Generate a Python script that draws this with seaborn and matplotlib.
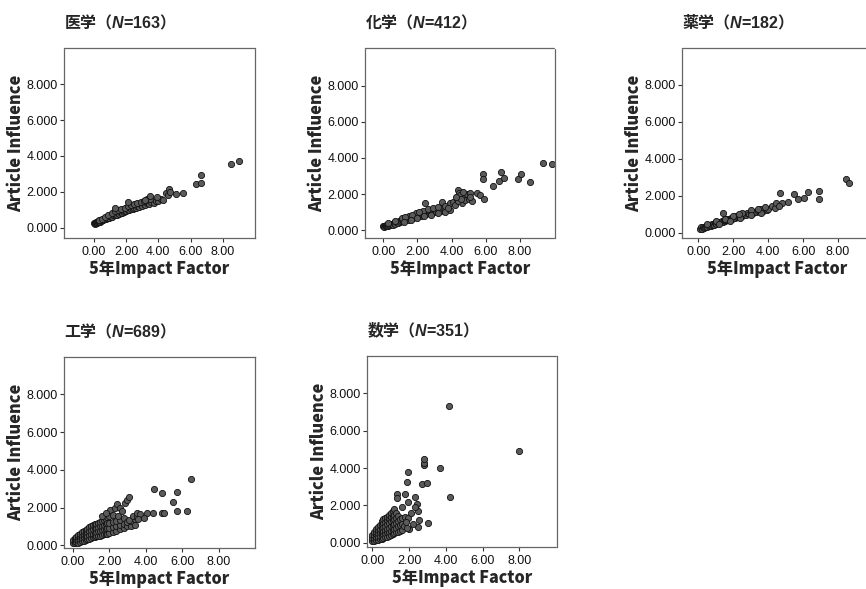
import matplotlib
matplotlib.use("Agg")
import matplotlib.pyplot as plt
import seaborn as sns
import pandas as pd
from matplotlib.ticker import FormatStrFormatter

# ---------------- data ----------------
fields = ["医学", "化学", "薬学", "工学", "数学"]
n_values = [163, 412, 182, 689, 351]
x_ticks = [0, 2, 4, 6, 8]
y_ticks = [0, 2, 4, 6, 8]
x_label = "5年Impact Factor"
y_label = "Article Influence"

med_pts = [
    (0.02, 0.23), (0.05, 0.2), (0.08, 0.27), (0.1, 0.24), (0.12, 0.3), (0.15, 0.25), (0.18, 0.31), (0.2, 0.28),
    (0.22, 0.33), (0.25, 0.3), (0.28, 0.35), (0.3, 0.31), (0.33, 0.37), (0.36, 0.34), (0.4, 0.4), (0.43, 0.37),
    (0.47, 0.43), (0.5, 0.4), (0.54, 0.46), (0.58, 0.43), (0.62, 0.5), (0.66, 0.46), (0.7, 0.52), (0.75, 0.5),
    (0.8, 0.56), (0.85, 0.52), (0.9, 0.6), (0.95, 0.56), (1.0, 0.63), (1.05, 0.6), (1.1, 0.66), (1.15, 0.62),
    (1.2, 0.7), (1.28, 0.68), (1.35, 0.74), (1.42, 0.72), (1.5, 0.8), (1.58, 0.76), (1.65, 0.84), (1.72, 0.82),
    (1.8, 0.9), (1.88, 0.86), (1.95, 0.95), (2.02, 0.92), (2.1, 0.99), (2.2, 0.98), (2.3, 1.06), (2.4, 1.02),
    (2.5, 1.12), (2.6, 1.08), (2.7, 1.18), (2.8, 1.14), (2.9, 1.25), (3.0, 1.2), (3.1, 1.3), (3.2, 1.25),
    (3.3, 1.36), (3.4, 1.32), (3.55, 1.42), (3.7, 1.38), (3.85, 1.5), (4.0, 1.48), (4.15, 1.58), (4.3, 1.55),
    (0.3, 0.42), (0.5, 0.5), (0.7, 0.62), (0.9, 0.72), (1.1, 0.8), (1.3, 0.9), (1.5, 0.98), (1.7, 1.05),
    (1.9, 1.12), (2.1, 1.2), (2.3, 1.28), (2.5, 1.3), (2.7, 1.38), (2.9, 1.45), (3.1, 1.5), (3.3, 1.6),
    (3.5, 1.62), (1.3, 1.08), (2.13, 1.42), (3.17, 1.55), (3.48, 1.77), (3.9, 1.72), (4.47, 1.96), (4.66, 2.16),
    (4.6, 1.8), (4.75, 2.0), (5.09, 1.86), (5.55, 1.96), (6.34, 2.42), (6.65, 2.51), (6.65, 2.96), (8.49, 3.56),
    (9.0, 3.74),
]

chem_pts = [
    (0.0, 0.2), (0.03, 0.24), (0.06, 0.18), (0.1, 0.22), (0.13, 0.26), (0.16, 0.2), (0.2, 0.25), (0.24, 0.29),
    (0.28, 0.23), (0.32, 0.28), (0.36, 0.32), (0.4, 0.27), (0.45, 0.33), (0.5, 0.36), (0.55, 0.3), (0.6, 0.38),
    (0.65, 0.41), (0.7, 0.35), (0.75, 0.43), (0.8, 0.46), (0.85, 0.4), (0.9, 0.48), (0.95, 0.5), (1.0, 0.45),
    (1.05, 0.53), (1.1, 0.56), (1.15, 0.5), (1.2, 0.58), (1.25, 0.6), (1.3, 0.54), (1.35, 0.63), (1.4, 0.66),
    (1.45, 0.58), (1.5, 0.67), (1.55, 0.7), (1.6, 0.63), (1.65, 0.72), (1.7, 0.75), (1.75, 0.67), (1.8, 0.77),
    (1.85, 0.8), (1.9, 0.72), (1.95, 0.82), (2.0, 0.85), (2.05, 0.76), (2.1, 0.87), (2.15, 0.9), (2.2, 0.8),
    (2.25, 0.92), (2.3, 0.95), (2.35, 0.84), (2.4, 0.97), (2.45, 1.0), (2.5, 0.88), (2.55, 1.02), (2.6, 1.05),
    (2.65, 0.92), (2.7, 1.06), (2.75, 1.1), (2.8, 0.96), (2.9, 1.1), (3.0, 1.14), (3.1, 1.0), (3.2, 1.16),
    (3.3, 1.2), (3.4, 1.05), (3.5, 1.22), (3.6, 1.12),
    (0.3, 0.38), (0.7, 0.52), (1.1, 0.66), (1.5, 0.8), (1.9, 0.94), (2.3, 1.08), (2.6, 1.18), (2.9, 1.25),
    (3.2, 1.3), (1.3, 0.72), (1.7, 0.86), (2.1, 1.0), (1.2, 0.44), (1.6, 0.54), (2.0, 0.66), (2.4, 0.76),
    (2.8, 0.86), (3.2, 0.95), (3.6, 1.0), (3.9, 1.12),
    (2.44, 1.48), (3.42, 1.57), (3.9, 1.48), (3.6, 1.32), (3.8, 1.22), (4.1, 1.55), (4.3, 1.75), (4.4, 2.2),
    (4.45, 2.05), (4.5, 1.95), (4.6, 1.5), (4.7, 1.8), (4.8, 1.65), (4.9, 2.0), (5.0, 1.7), (5.1, 2.05),
    (5.2, 1.6), (5.5, 2.04), (5.66, 1.94), (5.9, 1.7), (4.2, 1.4), (4.35, 1.6), (4.55, 1.7), (4.25, 1.85),
    (4.65, 2.1), (5.05, 1.85), (5.85, 3.09), (5.85, 2.81), (6.4, 2.44), (6.79, 2.74), (6.89, 3.2), (7.07, 2.87),
    (7.9, 2.81), (8.06, 3.09), (8.59, 2.68), (9.33, 3.74), (9.9, 3.67),
]

pharm_pts = [
    (0.1, 0.22), (0.15, 0.28), (0.2, 0.2), (0.25, 0.3), (0.3, 0.25), (0.35, 0.33), (0.4, 0.28), (0.45, 0.36),
    (0.5, 0.32), (0.55, 0.4), (0.6, 0.35), (0.65, 0.42), (0.7, 0.38), (0.75, 0.46), (0.8, 0.42), (0.85, 0.49),
    (0.9, 0.44), (0.95, 0.52), (1.0, 0.48), (1.05, 0.55), (1.1, 0.5), (1.15, 0.58), (1.2, 0.54), (1.25, 0.6),
    (1.3, 0.56), (1.35, 0.64), (1.4, 0.6), (1.45, 0.67), (1.5, 0.62), (1.55, 0.7), (1.6, 0.66), (1.65, 0.73),
    (1.7, 0.68), (1.75, 0.76), (1.8, 0.72), (1.85, 0.79), (1.9, 0.74), (1.95, 0.82), (2.0, 0.78), (2.05, 0.85),
    (2.1, 0.8), (2.15, 0.88), (2.2, 0.84), (2.25, 0.9), (2.3, 0.86), (2.35, 0.94), (2.4, 0.9), (2.45, 0.96),
    (2.5, 0.92), (2.6, 1.0), (2.7, 0.96), (2.8, 1.05), (2.9, 1.0), (3.0, 1.1), (3.1, 1.05), (3.2, 1.14),
    (3.3, 1.1), (3.4, 1.18), (3.5, 1.14), (3.6, 1.22), (3.7, 1.18), (3.8, 1.26), (3.9, 1.22), (4.0, 1.3),
    (0.5, 0.45), (1.0, 0.62), (1.5, 0.76), (2.0, 0.92), (2.5, 1.06), (3.0, 1.2), (3.5, 1.28), (1.2, 0.45),
    (1.8, 0.62), (2.4, 0.8), (3.0, 0.98), (3.6, 1.08),
    (1.38, 1.05), (3.8, 1.4), (4.2, 1.45), (4.4, 1.35), (4.47, 1.63), (4.7, 2.13), (4.79, 1.59), (5.11, 1.68),
    (5.46, 2.08), (5.69, 1.81), (6.03, 1.9), (6.29, 2.22), (6.9, 2.28), (6.9, 1.83), (8.43, 2.89), (8.62, 2.68),
    (3.4, 1.3), (4.6, 1.45), (2.3, 1.0),
]

eng_pts = [
    (0.0, 0.15), (0.0, 0.3), (0.1, 0.12), (0.1, 0.25), (0.1, 0.38), (0.2, 0.18), (0.2, 0.32), (0.2, 0.45),
    (0.3, 0.15), (0.3, 0.28), (0.3, 0.42), (0.3, 0.55), (0.4, 0.2), (0.4, 0.35), (0.4, 0.5), (0.4, 0.62),
    (0.5, 0.22), (0.5, 0.38), (0.5, 0.55), (0.5, 0.7), (0.6, 0.25), (0.6, 0.42), (0.6, 0.6), (0.6, 0.75),
    (0.7, 0.3), (0.7, 0.48), (0.7, 0.65), (0.7, 0.82), (0.8, 0.32), (0.8, 0.5), (0.8, 0.7), (0.8, 0.88),
    (0.9, 0.35), (0.9, 0.55), (0.9, 0.75), (0.9, 0.95), (1.0, 0.38), (1.0, 0.58), (1.0, 0.8), (1.0, 1.02),
    (1.1, 0.42), (1.1, 0.62), (1.1, 0.85), (1.1, 1.08), (1.2, 0.45), (1.2, 0.68), (1.2, 0.9), (1.2, 1.12),
    (1.3, 0.48), (1.3, 0.7), (1.3, 0.92), (1.3, 1.15), (1.4, 0.5), (1.4, 0.75), (1.4, 0.98), (1.4, 1.2),
    (1.5, 0.52), (1.5, 0.78), (1.5, 1.02), (1.5, 1.25), (1.6, 0.55), (1.6, 0.8), (1.6, 1.05), (1.6, 1.3),
    (1.7, 0.58), (1.7, 0.85), (1.7, 1.1), (1.7, 1.35), (1.8, 0.6), (1.8, 0.88), (1.8, 1.15), (1.8, 1.4),
    (1.9, 0.62), (1.9, 0.9), (1.9, 1.18), (1.9, 1.5), (2.0, 0.65), (2.0, 0.92), (2.0, 1.2), (2.0, 1.55),
    (2.2, 0.7), (2.2, 0.98), (2.2, 1.25), (2.4, 0.75), (2.4, 1.02), (2.4, 1.3), (2.6, 0.85), (2.6, 1.1),
    (2.6, 1.35), (2.8, 0.9), (2.8, 1.15), (2.8, 1.45), (3.0, 1.0), (3.0, 1.25), (3.2, 1.05), (3.2, 1.3),
    (3.4, 1.1), (3.4, 1.4),
    (2.04, 1.87), (2.32, 1.96), (2.41, 2.18), (2.6, 2.0), (2.7, 1.8), (2.87, 2.22), (2.96, 2.4), (3.08, 2.57),
    (3.1, 1.35), (3.3, 1.55), (3.5, 1.5), (3.54, 1.73), (3.7, 1.65), (4.09, 1.69), (4.38, 1.73), (4.88, 1.73),
    (5.02, 1.73), (4.47, 2.96), (4.88, 2.78), (5.7, 2.8), (5.51, 2.31), (5.7, 1.81), (6.28, 1.81), (6.48, 3.49),
    (1.6, 1.55), (1.8, 1.7), (2.2, 1.6), (2.5, 1.55), (3.6, 1.4), (3.9, 1.45),
]

math_pts = [
    (0.0, 0.1), (0.0, 0.25), (0.0, 0.4), (0.1, 0.1), (0.1, 0.25), (0.1, 0.4), (0.1, 0.55),
    (0.2, 0.15), (0.2, 0.3), (0.2, 0.45), (0.2, 0.6), (0.2, 0.75),
    (0.3, 0.15), (0.3, 0.3), (0.3, 0.5), (0.3, 0.7), (0.3, 0.85),
    (0.4, 0.2), (0.4, 0.35), (0.4, 0.55), (0.4, 0.75), (0.4, 0.95),
    (0.5, 0.2), (0.5, 0.4), (0.5, 0.6), (0.5, 0.8), (0.5, 1.0), (0.5, 1.15),
    (0.6, 0.25), (0.6, 0.45), (0.6, 0.65), (0.6, 0.85), (0.6, 1.05), (0.6, 1.25),
    (0.7, 0.3), (0.7, 0.5), (0.7, 0.7), (0.7, 0.9), (0.7, 1.1), (0.7, 1.3),
    (0.8, 0.3), (0.8, 0.55), (0.8, 0.75), (0.8, 1.0), (0.8, 1.2), (0.8, 1.4),
    (0.9, 0.35), (0.9, 0.6), (0.9, 0.8), (0.9, 1.05), (0.9, 1.3), (0.9, 1.5),
    (1.0, 0.4), (1.0, 0.65), (1.0, 0.9), (1.0, 1.15), (1.0, 1.4), (1.0, 1.6),
    (1.1, 0.45), (1.1, 0.7), (1.1, 0.95), (1.1, 1.2), (1.1, 1.45), (1.1, 1.7),
    (1.2, 0.5), (1.2, 0.75), (1.2, 1.0), (1.2, 1.25), (1.2, 1.5), (1.2, 1.8),
    (1.3, 0.55), (1.3, 0.8), (1.3, 1.05), (1.3, 1.35), (1.3, 1.6),
    (1.4, 0.6), (1.4, 0.9), (1.4, 1.15), (1.4, 1.45), (1.5, 0.65), (1.5, 0.95), (1.5, 1.25),
    (1.6, 0.7), (1.6, 1.0), (1.6, 1.3),
    (1.78, 1.39), (1.96, 1.31), (1.7, 0.9), (1.85, 1.1), (2.01, 0.72), (2.5, 0.86), (2.55, 1.22), (3.01, 1.07),
    (1.96, 2.2), (2.45, 2.07), (2.5, 1.71), (2.32, 1.93), (2.32, 2.46), (1.78, 2.61), (1.36, 2.59), (1.36, 2.38),
    (1.9, 3.23), (1.92, 3.77), (2.68, 3.13), (2.99, 3.21), (2.83, 4.16), (2.83, 4.29), (2.83, 4.47), (3.7, 4.02),
    (4.22, 2.46), (4.17, 7.34), (7.99, 4.91), (1.6, 1.9), (2.1, 1.6), (2.2, 1.0), (1.9, 0.8),
]

panel_points = [med_pts, chem_pts, pharm_pts, eng_pts, math_pts]

# ---------------- layout (pixels in an 866 x 589 canvas) ----------------
W, H = 866, 589
boxes = [(64, 48, 191, 190), (365, 48, 190, 190), (682, 48, 191, 190),
         (64, 357, 191, 191), (367, 356, 190, 191)]
xlims = [(-1.86, 10.0), (-1.07, 10.05), (-0.94, 10.0), (-0.48, 10.0), (-0.29, 10.05)]
ylims = [(-0.58, 10.03), (-0.44, 10.1), (-0.29, 10.0), (-0.14, 9.97), (-0.23, 10.0)]

sns.set_style("white")
plt.rcParams["font.family"] = ["Liberation Sans", "Noto Sans CJK JP", "DejaVu Sans"]
plt.rcParams["mathtext.fontset"] = "custom"
plt.rcParams["mathtext.it"] = "Liberation Sans:italic:bold"
plt.rcParams["mathtext.rm"] = "Liberation Sans:bold"

fig = plt.figure(figsize=(W / 100, H / 100), dpi=100)
cjk_bold = ["Noto Sans CJK JP", "DejaVu Sans"]

for i, (field, n, pts) in enumerate(zip(fields, n_values, panel_points)):
    l, t, w, h = boxes[i]
    ax = fig.add_axes([l / W, 1 - (t + h) / H, w / W, h / H])
    df = pd.DataFrame(pts, columns=["x", "y"])
    sns.scatterplot(data=df, x="x", y="y", ax=ax, s=20, marker="o",
                    facecolor="#5a5a5a", edgecolor="#111111", linewidth=0.6, legend=False)
    ax.set_xlim(*xlims[i])
    ax.set_ylim(*ylims[i])
    ax.set_xticks(x_ticks)
    ax.set_yticks(y_ticks)
    ax.xaxis.set_major_formatter(FormatStrFormatter("%.2f"))
    ax.yaxis.set_major_formatter(FormatStrFormatter("%.3f"))
    ax.tick_params(axis="both", which="major", direction="out", length=3, width=0.8,
                   color="#333333", labelsize=9, pad=1.5, labelcolor="#111111",
                   bottom=True, left=True)
    ax.tick_params(axis="x", pad=3)
    for sp in ax.spines.values():
        sp.set_visible(True)
        sp.set_color("#666666")
        sp.set_linewidth(0.9)
        sp.set_linestyle((0, (1, 1)))
    ax.set_xlabel(x_label, fontsize=11.6, fontweight="heavy", family=cjk_bold, labelpad=1)
    ax.set_ylabel(y_label, fontsize=11.8, fontweight="heavy", family=cjk_bold, labelpad=1)
    ax.set_title(f"{field}（$N$=$\\mathrm{{{n}}}$）", loc="left", pad=14, fontsize=11.5,
                 fontweight="bold", family=cjk_bold)

fig.savefig("out.png", dpi=100)
